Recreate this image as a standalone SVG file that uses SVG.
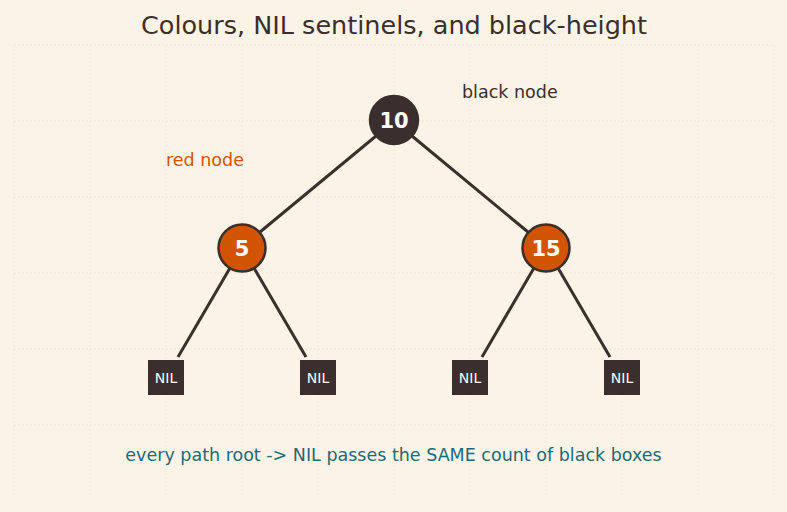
<svg xmlns="http://www.w3.org/2000/svg" width="787" height="512" viewBox="0 0 787 512">
<defs>
<style>
.grid line{stroke:#efe7d8;stroke-width:1;stroke-dasharray:2 2}
.edge{stroke:#3a2f2a;stroke-width:3;fill:none}
.black{fill:#3a2f2c;stroke:#3a2f2c;stroke-width:2.5}
.red{fill:#d35400;stroke:#3a2f2a;stroke-width:2.5}
.key{font-family:"DejaVu Sans",sans-serif;font-weight:bold;font-size:21px;fill:#ffffff;text-anchor:middle}
.nil{fill:#3a2f2c}
.niltext{font-family:"DejaVu Sans",sans-serif;font-size:14px;fill:#ffffff;text-anchor:middle}
.lbl{font-family:"DejaVu Sans",sans-serif;font-size:17.5px}
</style>
</defs>
<rect width="787" height="512" fill="#faf3e6"/>
<g class="grid">
<line x1="14" y1="45" x2="14" y2="497"/><line x1="90" y1="45" x2="90" y2="497"/><line x1="166" y1="45" x2="166" y2="497"/><line x1="242" y1="45" x2="242" y2="497"/><line x1="318" y1="45" x2="318" y2="497"/><line x1="394" y1="45" x2="394" y2="497"/><line x1="470" y1="45" x2="470" y2="497"/><line x1="546" y1="45" x2="546" y2="497"/><line x1="622" y1="45" x2="622" y2="497"/><line x1="698" y1="45" x2="698" y2="497"/><line x1="774" y1="45" x2="774" y2="497"/>
<line x1="14" y1="45" x2="774" y2="45"/><line x1="14" y1="121" x2="774" y2="121"/><line x1="14" y1="197" x2="774" y2="197"/><line x1="14" y1="273" x2="774" y2="273"/><line x1="14" y1="349" x2="774" y2="349"/><line x1="14" y1="425" x2="774" y2="425"/>
</g>
<text x="394" y="34" text-anchor="middle" font-family="DejaVu Sans, sans-serif" font-size="25.5" fill="#3a2f2a">Colours, NIL sentinels, and black-height</text>
<g id="connectors">
<line class="edge" x1="376" y1="136" x2="260" y2="232"/>
<line class="edge" x1="412" y1="136" x2="528" y2="232"/>
<line class="edge" x1="230" y1="268" x2="178" y2="357"/>
<line class="edge" x1="254" y1="268" x2="306" y2="357"/>
<line class="edge" x1="534" y1="268" x2="482" y2="357"/>
<line class="edge" x1="558" y1="268" x2="610" y2="357"/>
</g>
<g id="n10"><circle class="black" cx="394" cy="120" r="24"/><text class="key" x="394" y="127.5">10</text></g>
<g id="n5"><circle class="red" cx="242" cy="248" r="23.5"/><text class="key" x="242" y="255.5">5</text></g>
<g id="n15"><circle class="red" cx="546" cy="248" r="23.5"/><text class="key" x="546" y="255.5">15</text></g>
<g id="nil1"><rect class="nil" x="148" y="360" width="36" height="35"/><text class="niltext" x="166" y="382.5">NIL</text></g>
<g id="nil2"><rect class="nil" x="300" y="360" width="36" height="35"/><text class="niltext" x="318" y="382.5">NIL</text></g>
<g id="nil3"><rect class="nil" x="452" y="360" width="36" height="35"/><text class="niltext" x="470" y="382.5">NIL</text></g>
<g id="nil4"><rect class="nil" x="604" y="360" width="36" height="35"/><text class="niltext" x="622" y="382.5">NIL</text></g>
<text class="lbl" x="462" y="98" fill="#3a2f2a">black node</text>
<text class="lbl" x="166" y="166" fill="#d35400">red node</text>
<text class="lbl" x="393.5" y="461" text-anchor="middle" fill="#1b6b78" font-size="18.5">every path root -&gt; NIL passes the SAME count of black boxes</text>
</svg>
